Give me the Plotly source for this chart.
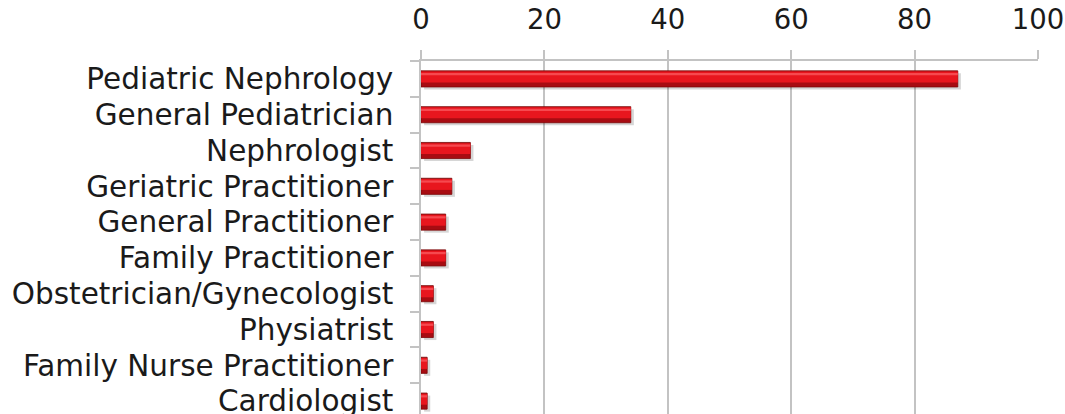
import plotly.graph_objects as go

categories = [
    "Pediatric Nephrology",
    "General Pediatrician",
    "Nephrologist",
    "Geriatric Practitioner",
    "General Practitioner",
    "Family Practitioner",
    "Obstetrician/Gynecologist",
    "Physiatrist",
    "Family Nurse Practitioner",
    "Cardiologist",
]
values = [87, 34, 8, 5, 4, 4, 2, 2, 1, 1]
x_ticks = [0, 20, 40, 60, 80, 100]

FONT = "DejaVu Sans"
FSIZE = 29.5
XFSIZE = 27.5
GRID = "#c3c3c3"
BW = 0.45
START = -BW / 2

fig = go.Figure()
# drop shadow
fig.add_trace(go.Bar(y=categories, x=values, base=0.5, orientation="h",
                     width=BW, offset=START + 0.07,
                     marker=dict(color="rgba(0,0,0,0.16)", line=dict(width=0)),
                     hoverinfo="skip", showlegend=False))
# main body (dark lower part)
fig.add_trace(go.Bar(y=categories, x=values, orientation="h",
                     width=BW, offset=START,
                     marker=dict(color="#a80c12", line=dict(color="#7a0808", width=0.8)),
                     showlegend=False))
# upper brighter part
fig.add_trace(go.Bar(y=categories, x=values, orientation="h",
                     width=BW * 0.68, offset=START + 0.02,
                     marker=dict(color="#e8161e", line=dict(width=0)),
                     hoverinfo="skip", showlegend=False))
# highlight stripe
fig.add_trace(go.Bar(y=categories, x=values, orientation="h",
                     width=BW * 0.14, offset=START + 0.06,
                     marker=dict(color="#f6494f", line=dict(width=0)),
                     hoverinfo="skip", showlegend=False))

fig.update_layout(
    width=1065, height=414, autosize=False,
    margin=dict(l=421, r=27, t=61, b=0, pad=0),
    paper_bgcolor="white", plot_bgcolor="white",
    barmode="overlay",
    font=dict(family=FONT, size=FSIZE, color="#1a1a1a"),
    xaxis=dict(
        side="top", range=[0, 100], tickvals=x_ticks, automargin=False,
        showgrid=True, gridcolor=GRID, gridwidth=1.5,
        showline=True, linecolor=GRID, linewidth=1.5,
        ticks="outside", ticklen=9, tickcolor=GRID, tickwidth=1.5,
        zeroline=False, ticklabelstandoff=10, ticklabeloverflow="allow",
        tickfont=dict(family=FONT, size=XFSIZE, color="#1a1a1a"),
    ),
    yaxis=dict(
        type="category", categoryorder="array", categoryarray=categories,
        range=[9.36, -0.5], automargin=False,
        showgrid=False, showline=True, linecolor=GRID, linewidth=1.5,
        ticks="outside", tickson="boundaries", ticklen=9,
        tickcolor=GRID, tickwidth=1.5, zeroline=False,
        ticklabelstandoff=20, ticklabeloverflow="allow",
        tickfont=dict(family=FONT, size=FSIZE, color="#1a1a1a"),
    ),
)

fig.write_html(
    "out.html",
    config={"displayModeBar": False},
    post_script="document.body.style.margin='0';document.body.style.overflow='hidden';",
)
